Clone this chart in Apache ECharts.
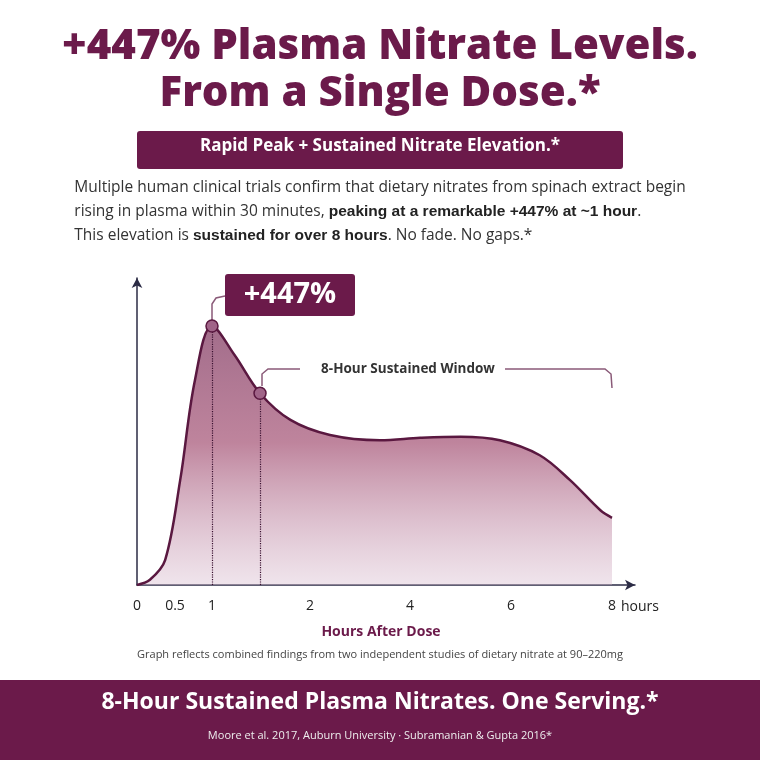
<!DOCTYPE html>
<html>
<head>
<meta charset="utf-8">
<script src="https://cdn.jsdelivr.net/npm/echarts@6/dist/echarts.min.js"></script>
<style>html,body{margin:0;padding:0;background:#fff}#chart{width:760px;height:760px}</style>
</head>
<body>
<div id="chart"></div>
<script>
// data: hours after dose vs plasma nitrate increase (%)
var hours = [0, 0.17, 0.37, 0.57, 0.77, 1.0, 1.23, 1.49, 1.8, 2.4, 3.4, 4.2, 5.0, 5.78, 6.57, 7.17, 7.77, 8];
var nitrate = [0, 9, 43, 181, 354, 447, 397, 331, 285, 259, 250, 254, 256, 250, 224, 181, 129, 116];
var tickHours = [0, 0.5, 1, 2, 4, 6, 8];
var tickLabels = ['0', '0.5', '1', '2', '4', '6', '8'];
// the picture's hour axis is not linear: where each tick sits along the axis
var tickPos = [0, 0.38, 0.75, 1.73, 2.73, 3.74, 4.75];
var peakHour = 1.0, peakVal = 447;
var markHour = 1.49, markVal = 331;

function toPos(h) {
    for (var i = 1; i < tickHours.length; i++) {
        if (h <= tickHours[i]) {
            var t = (h - tickHours[i - 1]) / (tickHours[i] - tickHours[i - 1]);
            return tickPos[i - 1] + t * (tickPos[i] - tickPos[i - 1]);
        }
    }
    return tickPos[tickPos.length - 1];
}

var plum = '#6b1a4a';
var myChart = echarts.init(document.getElementById('chart'));
var font = '"Open Sans", Lato, sans-serif';

var option = {
    backgroundColor: '#fff',
    animation: false,
    textStyle: { fontFamily: font },
    grid: { left: 137, right: 125, top: 278, bottom: 175 },
    xAxis: {
        type: 'value', min: 0, max: 4.98,
        splitLine: { show: false },
        axisLine: { lineStyle: { color: '#2b2b45', width: 1.5 }, symbol: ['none', 'arrow'], symbolSize: [8, 10] },
        axisTick: { show: false },
        axisLabel: {
            customValues: tickPos, color: '#222', fontSize: 14, margin: 14,
            formatter: function (v) { return tickLabels[tickPos.indexOf(v)]; }
        },
        name: 'Hours After Dose', nameLocation: 'middle', nameGap: 40,
        nameTextStyle: { color: plum, fontSize: 14, fontWeight: 'bold', padding: [0, 10, 0, 0] }
    },
    yAxis: {
        type: 'value', min: 0, max: 530,
        splitLine: { show: false },
        axisLine: { show: true, lineStyle: { color: '#2b2b45', width: 1.5 }, symbol: ['none', 'arrow'], symbolSize: [8, 10] },
        axisTick: { show: false }, axisLabel: { show: false }
    },
    series: [{
        type: 'line', smooth: 0.35, symbol: 'none',
        data: hours.map(function (h, i) { return [toPos(h), nitrate[i]]; }),
        lineStyle: { color: '#5a1840', width: 2.5 },
        areaStyle: {
            color: new echarts.graphic.LinearGradient(0, 0, 0, 1, [
                { offset: 0, color: 'rgba(115,35,80,0.95)' },
                { offset: 0.45, color: 'rgba(150,55,95,0.88)' },
                { offset: 1, color: 'rgba(215,185,205,0.55)' }
            ])
        },
        markLine: {
            silent: true, symbol: 'none', label: { show: false },
            lineStyle: { color: '#3a1030', type: 'dotted', width: 1.2 },
            data: [
                [{ coord: [toPos(peakHour), 0] }, { coord: [toPos(peakHour), peakVal] }],
                [{ coord: [toPos(markHour), 0] }, { coord: [toPos(markHour), markVal] }]
            ]
        },
        markPoint: {
            symbol: 'circle', symbolSize: 12, label: { show: false },
            itemStyle: { color: '#a06488', borderColor: '#5a1840', borderWidth: 1.5 },
            data: [{ coord: [toPos(peakHour), peakVal] }, { coord: [toPos(markHour), markVal] }]
        }
    }],
    graphic: [
        { type: 'text', left: 'center', top: 26, style: { text: '+447% Plasma Nitrate Levels.', font: '800 42px ' + font, fill: plum } },
        { type: 'text', left: 'center', top: 73, style: { text: 'From a Single Dose.*', font: '800 42px ' + font, fill: plum } },
        { type: 'rect', shape: { x: 137, y: 131, width: 486, height: 38, r: 3 }, style: { fill: plum } },
        { type: 'text', left: 'center', top: 138, style: { text: 'Rapid Peak + Sustained Nitrate Elevation.*', font: 'bold 17px ' + font, fill: '#fff' } },
        { type: 'text', left: 'center', top: 176, style: {
            text: 'Multiple human clinical trials confirm that dietary nitrates from spinach extract begin\n' +
                'rising in plasma within 30 minutes, {b|peaking at a remarkable +447% at ~1 hour}.\n' +
                'This elevation is {b|sustained for over 8 hours}. No fade. No gaps.*',
            font: '15.5px ' + font, fill: '#333', align: 'center', lineHeight: 24,
            rich: { b: { fontWeight: 'bold', fontSize: 15.5, fill: '#222' } }
        } },
        // +447% callout
        { type: 'rect', shape: { x: 225, y: 274, width: 130, height: 42, r: 3 }, style: { fill: plum } },
        { type: 'text', x: 290, y: 295, style: { text: '+447%', font: 'bold 29px ' + font, fill: '#fff', align: 'center', verticalAlign: 'middle' } },
        { type: 'polyline', shape: { points: [[212, 320], [212, 304], [216, 298], [225, 296]] }, style: { stroke: '#8a5a78', lineWidth: 1.5, fill: 'none' } },
        // 8-hour window bracket
        { type: 'polyline', shape: { points: [[262, 386], [262, 374], [268, 369], [300, 369]] }, style: { stroke: '#8a5a78', lineWidth: 1.5, fill: 'none' } },
        { type: 'text', x: 408, y: 369, style: { text: '8-Hour Sustained Window', font: 'bold 13.5px ' + font, fill: '#333', align: 'center', verticalAlign: 'middle' } },
        { type: 'polyline', shape: { points: [[505, 369], [605, 369], [611, 374], [612, 388]] }, style: { stroke: '#8a5a78', lineWidth: 1.5, fill: 'none' } },
        { type: 'text', x: 640, y: 607, style: { text: 'hours', font: '14px ' + font, fill: '#222', align: 'center', verticalAlign: 'middle' } },
        { type: 'text', left: 'center', top: 649, style: { text: 'Graph reflects combined findings from two independent studies of dietary nitrate at 90\u2013220mg', font: '11px ' + font, fill: '#444' } },
        { type: 'rect', shape: { x: 0, y: 680, width: 760, height: 80 }, style: { fill: plum } },
        { type: 'text', left: 'center', top: 691, style: { text: '8-Hour Sustained Plasma Nitrates. One Serving.*', font: 'bold 23px ' + font, fill: '#fff' } },
        { type: 'text', left: 'center', top: 730, style: { text: 'Moore et al. 2017, Auburn University \u00b7 Subramanian & Gupta 2016*', font: '11px ' + font, fill: '#eee' } }
    ]
};

myChart.setOption(option);
</script>
</body>
</html>
